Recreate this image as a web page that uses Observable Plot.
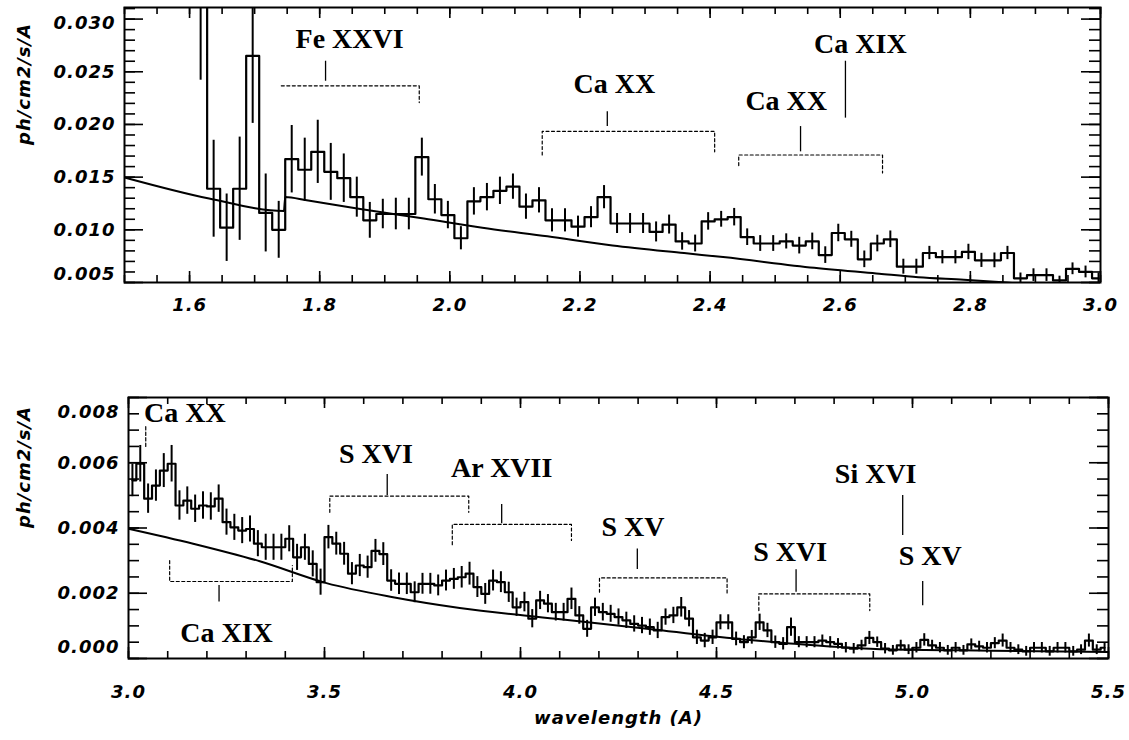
<!DOCTYPE html>
<html><head><meta charset="utf-8">
<script src="https://cdn.jsdelivr.net/npm/d3@7"></script>
<script src="https://cdn.jsdelivr.net/npm/@observablehq/plot@0.6"></script>
<style>
html,body{margin:0;padding:0;background:#fff;}
#chart{width:1129px;height:740px;position:relative;overflow:hidden;}
#chart svg{display:block;}
g[aria-label="x-axis tick label"], g[aria-label="y-axis tick label"], g[aria-description="axis-title"]{letter-spacing:1px;}
</style></head><body><div id="chart"></div>
<script>
// ---------- upper panel (1.5 - 3.0 A) ----------
const topWave = [1.617,1.637,1.657,1.677,1.697,1.717,1.737,1.757,1.777,1.797,
  1.817,1.837,1.857,1.877,1.897,1.917,1.937,1.957,1.977,1.997,
  2.017,2.037,2.057,2.077,2.097,2.117,2.137,2.157,2.177,2.197,
  2.217,2.237,2.257,2.277,2.297,2.317,2.337,2.357,2.377,2.397,
  2.417,2.437,2.457,2.477,2.497,2.517,2.537,2.557,2.577,2.597,
  2.617,2.637,2.657,2.677,2.697,2.717,2.737,2.757,2.777,2.797,
  2.817,2.837,2.857,2.877,2.897,2.917,2.937,2.957,2.977,2.997];
const topFlux = [0.0360,0.0139,0.0102,0.0139,0.0265,0.0116,0.0100,0.0167,0.0157,0.0174,
  0.0155,0.0149,0.0131,0.0109,0.0115,0.0115,0.0115,0.0169,0.0129,0.0114,
  0.0092,0.0127,0.0131,0.0137,0.0141,0.0122,0.0128,0.0109,0.0109,0.0103,
  0.0112,0.0131,0.0106,0.0106,0.0106,0.0098,0.0105,0.0089,0.0087,0.0108,
  0.0110,0.0112,0.0093,0.0087,0.0087,0.0089,0.0085,0.0089,0.0076,0.0097,
  0.0091,0.0072,0.0087,0.0091,0.0065,0.0065,0.0078,0.0074,0.0074,0.0079,
  0.0071,0.0071,0.0078,0.0054,0.0057,0.0057,0.0052,0.0063,0.0060,0.0054];
const topErr = [0.0118,0.0046,0.0032,0.0049,0.0064,0.0037,0.0027,0.0032,0.0030,0.0030,
  0.0027,0.0023,0.0019,0.0017,0.0014,0.0015,0.0015,0.0018,0.0014,0.0013,
  0.0011,0.0013,0.0013,0.0013,0.0012,0.0012,0.0012,0.0011,0.0011,0.0010,
  0.0010,0.0011,0.00095,0.00095,0.00095,0.00095,0.0009,0.00083,0.0008,0.00083,
  0.00075,0.00083,0.00079,0.00075,0.00075,0.00072,0.00079,0.00079,0.00079,0.00083,
  0.00076,0.00079,0.00079,0.00079,0.00071,0.00071,0.00063,0.00063,0.00063,0.00073,
  0.00067,0.0007,0.00063,0.0005,0.0006,0.0006,0.0004,0.00056,0.00056,0.0005];
const topModelWave = [1.50,1.63,1.745,1.747,1.78,1.86,1.96,2.05,2.15,2.25,2.36,2.42,2.56,2.66,2.72,2.79,2.90,3.00];
const topModelFlux = [0.01497,0.01297,0.01179,0.01312,0.0128,0.0120,0.01107,0.0102,0.00938,0.00852,0.00779,0.00741,0.0064,0.00583,0.0055,0.00526,0.0048,0.0044];

const topLabelText = ["Fe XXVI","Ca XX","Ca XX","Ca XIX"];
const topLabelX = [1.846,2.253,2.517,2.631];
const topLabelY = [0.0281,0.0238,0.0222,0.0276];
const topTickX = [1.809,2.242,2.539,2.608];
const topTickY1 = [0.0241,0.0198,0.0174,0.0206];
const topTickY2 = [0.0260,0.0212,0.0198,0.0260];
const topBracketX1 = [1.741,2.142,2.444];
const topBracketX2 = [1.953,2.407,2.665];
const topBracketY = [0.02367,0.01935,0.0171];
const topBracketEnd1 = [0.02367,0.0171,0.0161];
const topBracketEnd2 = [0.02208,0.0174,0.0154];

const topXTicks = [1.6,1.8,2.0,2.2,2.4,2.6,2.8,3.0];
const topYTicks = [0.005,0.010,0.015,0.020,0.025,0.030];

// ---------- lower panel (3.0 - 5.5 A) ----------
const botWave = [3.01,3.03,3.05,3.07,3.09,3.11,3.13,3.15,3.17,3.19,
  3.21,3.23,3.25,3.27,3.29,3.31,3.33,3.35,3.37,3.39,
  3.41,3.43,3.45,3.47,3.49,3.51,3.53,3.55,3.57,3.59,
  3.61,3.63,3.65,3.67,3.69,3.71,3.73,3.75,3.77,3.79,
  3.81,3.83,3.85,3.87,3.89,3.91,3.93,3.95,3.97,3.99,
  4.01,4.03,4.05,4.07,4.09,4.11,4.13,4.15,4.17,4.19,
  4.21,4.23,4.25,4.27,4.29,4.31,4.33,4.35,4.37,4.39,
  4.41,4.43,4.45,4.47,4.49,4.51,4.53,4.55,4.57,4.59,
  4.61,4.63,4.65,4.67,4.69,4.71,4.73,4.75,4.77,4.79,
  4.81,4.83,4.85,4.87,4.89,4.91,4.93,4.95,4.97,4.99,
  5.01,5.03,5.05,5.07,5.09,5.11,5.13,5.15,5.17,5.19,
  5.21,5.23,5.25,5.27,5.29,5.31,5.33,5.35,5.37,5.39,
  5.41,5.43,5.45,5.47,5.49];
const botFlux = [0.00546,0.00597,0.00490,0.00530,0.00576,0.00597,0.00469,0.00484,0.00459,0.00469,
  0.00466,0.00490,0.00418,0.00402,0.00392,0.00397,0.00352,0.00341,0.00341,0.00341,
  0.00367,0.00310,0.00341,0.00290,0.00234,0.00372,0.00352,0.00321,0.00260,0.00285,
  0.00280,0.00330,0.00320,0.00239,0.00229,0.00229,0.00203,0.00229,0.00229,0.00224,
  0.00239,0.00244,0.00249,0.00260,0.00219,0.00198,0.00239,0.00234,0.00203,0.00157,
  0.00173,0.00122,0.00178,0.00168,0.00142,0.00142,0.00183,0.00132,0.00091,0.00157,
  0.00142,0.00137,0.00127,0.00117,0.00106,0.00101,0.00096,0.00086,0.00127,0.00132,
  0.00157,0.00122,0.00065,0.00055,0.00065,0.00111,0.00111,0.00060,0.00050,0.00065,
  0.00111,0.00086,0.00050,0.00045,0.00096,0.00050,0.00050,0.00050,0.00055,0.00050,
  0.00045,0.00033,0.00030,0.00040,0.00063,0.00050,0.00030,0.00025,0.00040,0.00027,
  0.00033,0.00057,0.00040,0.00033,0.00025,0.00033,0.00025,0.00043,0.00037,0.00033,
  0.00047,0.00055,0.00033,0.00027,0.00022,0.00033,0.00033,0.00022,0.00033,0.00033,
  0.00022,0.00027,0.00055,0.00027,0.00033];
const botErr = [0.00050,0.00056,0.00045,0.00048,0.00052,0.00056,0.00045,0.00042,0.00042,0.00042,
  0.00042,0.00042,0.00040,0.00040,0.00040,0.00040,0.00040,0.00040,0.00040,0.00040,
  0.00040,0.00040,0.00040,0.00040,0.00040,0.00036,0.00035,0.00035,0.00034,0.00034,
  0.00034,0.00035,0.00035,0.00033,0.00033,0.00033,0.00032,0.00032,0.00032,0.00032,
  0.00032,0.00032,0.00033,0.00035,0.00032,0.00032,0.00032,0.00032,0.00031,0.00028,
  0.00030,0.00028,0.00028,0.00028,0.00027,0.00027,0.00033,0.00027,0.00026,0.00028,
  0.00027,0.00026,0.00025,0.00025,0.00025,0.00025,0.00025,0.00025,0.00025,0.00025,
  0.00030,0.00025,0.00022,0.00022,0.00022,0.00023,0.00023,0.00021,0.00020,0.00021,
  0.00025,0.00022,0.00019,0.00019,0.00028,0.00017,0.00017,0.00017,0.00017,0.00017,
  0.00016,0.00016,0.00016,0.00016,0.00020,0.00016,0.00016,0.00015,0.00016,0.00015,
  0.00016,0.00019,0.00016,0.00016,0.00015,0.00016,0.00015,0.00017,0.00016,0.00016,
  0.00017,0.00020,0.00016,0.00015,0.00015,0.00016,0.00016,0.00015,0.00016,0.00016,
  0.00015,0.00015,0.00020,0.00015,0.00016];
const botModelWave = [3.0,3.165,3.335,3.505,3.675,3.845,4.09,4.345,4.6,4.68,4.8,4.93,5.2,5.5];
const botModelFlux = [0.00398,0.00352,0.00298,0.00231,0.00188,0.00155,0.00122,0.00088,0.00055,0.00047,0.00036,0.00028,0.00024,0.0002];

const botLabelText = ["Ca XX","Ca XIX","S XVI","Ar XVII","S XV","S XVI","Si XVI","S XV"];
const botLabelX = [3.144,3.25,3.631,3.952,4.287,4.688,4.906,5.045];
const botLabelY = [0.00753,0.00077,0.00626,0.00584,0.00402,0.00326,0.00564,0.00313];
const botTickX = [3.231,3.660,3.952,4.298,4.703,4.975,5.026];
const botTickY1 = [0.00173,0.00500,0.00413,0.00273,0.00203,0.00377,0.00162];
const botTickY2 = [0.00224,0.00564,0.00472,0.00336,0.00272,0.00500,0.00236];
const botBracketX1 = [3.044,3.105,3.5135,3.826,4.2015,4.608];
const botBracketX2 = [3.044,3.418,3.868,4.130,4.527,4.891];
const botBracketY = [0.00714,0.00236,0.00498,0.00411,0.00247,0.00198];
const botBracketEnd1 = [0.00650,0.00300,0.00448,0.00349,0.00203,0.00147];
const botBracketEnd2 = [0.00650,0.00285,0.00448,0.00362,0.00198,0.00147];

const botXTicks = [3.0,3.5,4.0,4.5,5.0,5.5];
const botYTicks = [0.000,0.002,0.004,0.006,0.008];

const yLabel = "ph/cm2/s/A";
const xLabel = "wavelength (A)";

// ---------- drawing ----------
const sans = "'DejaVu Sans', 'Liberation Sans', sans-serif";
const serif = "'Liberation Serif', 'DejaVu Serif', serif";

function panel(o) {
  const iw = o.width - o.ml - o.mr, ih = o.height - o.mt - o.mb;
  const rows = o.wave.map((w, i) => ({w, f: o.flux[i], e: o.err[i]}));
  const model = o.modelWave.map((w, i) => ({w, f: o.modelFlux[i]}));
  const li = o.labelText.map((_, i) => i);
  const ti = o.tickX.map((_, i) => i);
  const brackets = o.bx1.flatMap((a, i) => [
    {x: a, y: o.be1[i], z: i}, {x: a, y: o.by[i], z: i},
    {x: o.bx2[i], y: o.by[i], z: i}, {x: o.bx2[i], y: o.be2[i], z: i}]);
  const [yEdgeLo, yEdgeHi] = [o.yTicks[0], o.yTicks[o.yTicks.length - 1]];
  const yInner = o.yTicks.slice(1, -1);
  const yAxisOpts = {anchor: "left", tickSize: 0, tickPadding: 9, tickFormat: d3.format(".3f"), label: null};
  const tk = {stroke: "#000", strokeWidth: 1.6};
  return Plot.plot({
    width: o.width, height: o.height,
    marginTop: o.mt, marginBottom: o.mb, marginLeft: o.ml, marginRight: o.mr,
    x: {domain: o.xDomain},
    y: {domain: o.yDomain},
    style: {fontFamily: sans, fontSize: "18px", fontWeight: "bold", fontStyle: "italic", color: "#000", background: "#fff", overflow: "visible"},
    marks: [
      // model continuum
      Plot.line(model, {x: "w", y: "f", curve: "monotone-x", stroke: "#000", strokeWidth: 2, clip: true}),
      // histogram
      Plot.line(rows, {x: "w", y: "f", curve: "step", stroke: "#000", strokeWidth: 2.2, clip: true}),
      // error bars
      Plot.ruleX(rows, {x: "w", y1: d => d.f - d.e, y2: d => d.f + d.e, stroke: "#000", strokeWidth: 2, clip: true}),
      // line identifications
      Plot.line(brackets, {x: "x", y: "y", z: "z", stroke: "#000", strokeWidth: 1.2, strokeDasharray: "3,2.5"}),
      Plot.ruleX(ti, {x: i => o.tickX[i], y1: i => o.tickY1[i], y2: i => o.tickY2[i], stroke: "#000", strokeWidth: 1.3}),
      Plot.text(li, {x: i => o.labelX[i], y: i => o.labelY[i], text: i => o.labelText[i],
        fontFamily: serif, fontWeight: "bold", fontStyle: "normal", fontSize: 28, fill: "#000"}),
      // inward ticks on all four sides
      Plot.ruleX(o.xMinor, {...tk, insetTop: ih - 7}),
      Plot.ruleX(o.xTicks, {...tk, insetTop: ih - 11}),
      Plot.ruleX(o.xMinor, {...tk, insetBottom: ih - 7}),
      Plot.ruleX(o.xTicks, {...tk, insetBottom: ih - 11}),
      Plot.ruleY(o.yMinor, {...tk, insetRight: iw - 11}),
      Plot.ruleY(o.yTicks, {...tk, insetRight: iw - 19}),
      Plot.ruleY(o.yMinor, {...tk, insetLeft: iw - 11}),
      Plot.ruleY(o.yTicks, {...tk, insetLeft: iw - 19}),
      Plot.frame({stroke: "#000", strokeWidth: 2}),
      // tick labels
      Plot.axisX({anchor: "bottom", ticks: o.xTicks, tickSize: 0, tickPadding: o.xPad, tickFormat: d3.format(".1f"), label: null}),
      Plot.axisY({...yAxisOpts, ticks: yInner}),
      Plot.axisY({...yAxisOpts, ticks: [yEdgeLo], dy: o.dyLo}),
      Plot.axisY({...yAxisOpts, ticks: [yEdgeHi], dy: o.dyHi}),
      // axis titles
      Plot.text([yLabel], {frameAnchor: "left", dx: o.ylabDx, rotate: -90, fontSize: 18, ariaDescription: "axis-title"}),
      ...(o.xTitle ? [Plot.text([o.xTitle], {frameAnchor: "bottom", dy: o.xTitleDy, fontSize: 18, ariaDescription: "axis-title"})] : [])
    ]
  });
}

const chart = document.getElementById("chart");
chart.append(panel({
  width: 1129, height: 350, mt: 7, mb: 68, ml: 124, mr: 29,
  xDomain: [1.5, 3.0], yDomain: [0.005, 0.0311],
  wave: topWave, flux: topFlux, err: topErr,
  modelWave: topModelWave, modelFlux: topModelFlux,
  labelText: topLabelText, labelX: topLabelX, labelY: topLabelY,
  tickX: topTickX, tickY1: topTickY1, tickY2: topTickY2,
  bx1: topBracketX1, bx2: topBracketX2, by: topBracketY, be1: topBracketEnd1, be2: topBracketEnd2,
  xTicks: topXTicks, xMinor: d3.range(31).map(i => 1.5 + i * 0.05),
  yTicks: topYTicks, yMinor: d3.range(5, 32).map(i => i / 1000),
  xPad: 16, dyLo: -8, dyHi: 4, ylabDx: -100, xTitle: null
}));
chart.append(panel({
  width: 1129, height: 390, mt: 47, mb: 82, ml: 128, mr: 21,
  xDomain: [3.0, 5.5], yDomain: [0, 0.008],
  wave: botWave, flux: botFlux, err: botErr,
  modelWave: botModelWave, modelFlux: botModelFlux,
  labelText: botLabelText, labelX: botLabelX, labelY: botLabelY,
  tickX: botTickX, tickY1: botTickY1, tickY2: botTickY2,
  bx1: botBracketX1, bx2: botBracketX2, by: botBracketY, be1: botBracketEnd1, be2: botBracketEnd2,
  xTicks: botXTicks, xMinor: d3.range(26).map(i => 3 + i / 10),
  yTicks: botYTicks, yMinor: d3.range(17).map(i => i * 0.0005),
  xPad: 27, dyLo: -11, dyHi: 15, ylabDx: -104, xTitle: xLabel, xTitleDy: 65
}));
</script></body></html>
